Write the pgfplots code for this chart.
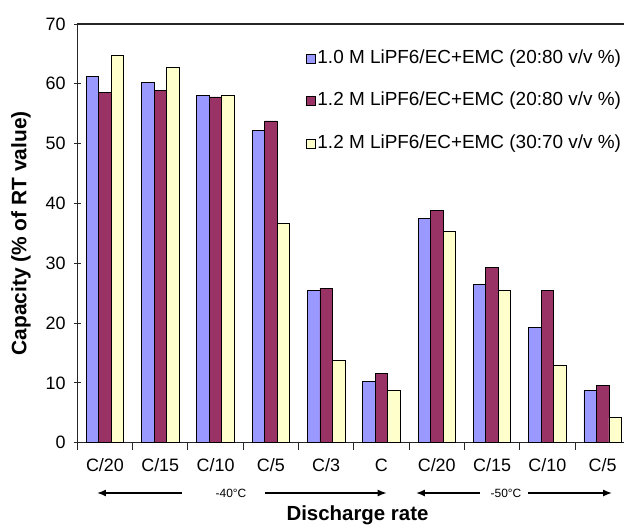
\documentclass[border=0pt]{standalone}
\usepackage{pgfplots}
\pgfplotsset{compat=1.18}
\usepackage{fontspec}
\setmainfont{Liberation Sans}
\usetikzlibrary{arrows.meta}
\definecolor{cA}{HTML}{9999FF}
\definecolor{cB}{HTML}{993366}
\definecolor{cC}{HTML}{FFFFCC}
\begin{document}
\begin{tikzpicture}
\begin{axis}[
  scale only axis, width=553bp, height=418.7bp,
  xmin=-0.5, xmax=9.5, ymin=0, ymax=70,
  clip=false,
  /pgf/number format/assume math mode=true,
  axis lines=left, axis line style={-, line width=1.1bp, black!85},
  ytick={0,10,...,70},
  tick align=center, major tick length=7bp,
  tick style={line width=1bp, black!85},
  xtick={-0.5,0.5,...,9.5}, xticklabels={,,,,,,,,,,,,},
  extra x ticks={0,1,2,3,4,5,6,7,8,9},
  extra x tick labels={C/20,C/15,C/10,C/5,C/3,C,C/20,C/15,C/10,C/5},
  extra x tick style={major tick length=0pt},
  xticklabel style={font=\fontsize{18}{20}\selectfont, anchor=base, yshift=-28.7bp},
  yticklabel style={font=\fontsize{18}{20}\selectfont, xshift=-4.6bp},
  ylabel={Capacity (\% of RT value)},
  ylabel style={font=\bfseries\fontsize{21}{24}\selectfont, at={(axis description cs:-0.102,0.5)}, anchor=center},
  xlabel={Discharge rate},
  xlabel style={font=\bfseries\fontsize{20.5}{23}\selectfont, at={(axis description cs:0.5,0)}, anchor=base, yshift=-77.3bp, xshift=3.7bp},
  ybar=0pt, bar width=12.5bp,
  sqlegend/.style={legend image code/.code={\draw[##1, draw=black, line width=0.8bp] (0bp,-4.5bp) rectangle (9bp,4.5bp);}},
  legend style={draw=none, fill=none, inner sep=0pt, at={(axis description cs:0.4135,0.942)}, anchor=north west,
    font=\fontsize{19}{22}\selectfont, row sep=22bp,
    nodes={inner sep=1.5bp, text height=13.5bp, text depth=4bp}},
  legend cell align=left,
]
\addplot[fill=cA, draw=black, line width=0.8bp, sqlegend] coordinates {
(0,61.3) (1,60.2) (2,58.0) (3,52.2) (4,25.4) (5,10.2) (6,37.5) (7,26.5) (8,19.2) (9,8.7)};
\addplot[fill=cB, draw=black, line width=0.8bp, sqlegend] coordinates {
(0,58.6) (1,58.9) (2,57.8) (3,53.8) (4,25.8) (5,11.6) (6,38.9) (7,29.3) (8,25.4) (9,9.5)};
\addplot[fill=cC, draw=black, line width=0.8bp, sqlegend] coordinates {
(0,64.7) (1,62.8) (2,58.1) (3,36.6) (4,13.7) (5,8.8) (6,35.3) (7,25.4) (8,13.0) (9,4.2)};
\legend{1.0 M LiPF6/EC+EMC (20:80 v/v \%),1.2 M LiPF6/EC+EMC (20:80 v/v \%),1.2 M LiPF6/EC+EMC (30:70 v/v \%)}
\draw[black!85, line width=1.1bp] (rel axis cs:0,1) -- (rel axis cs:1,1);
\draw[-{Latex[length=9bp,width=7bp]}, line width=1.5bp] (axis cs:1.393,-8.41) -- (axis cs:-0.144,-8.41);
\node[font=\fontsize{12}{14}\selectfont] at (axis cs:2.28,-8.41) {-40°C};
\draw[-{Latex[length=9bp,width=7bp]}, line width=1.5bp] (axis cs:2.894,-8.41) -- (axis cs:5.095,-8.41);
\draw[-{Latex[length=9bp,width=7bp]}, line width=1.5bp] (axis cs:6.781,-8.41) -- (axis cs:5.624,-8.41);
\node[font=\fontsize{12}{14}\selectfont] at (axis cs:7.252,-8.41) {-50°C};
\draw[-{Latex[length=9bp,width=7bp]}, line width=1.5bp] (axis cs:7.65,-8.41) -- (axis cs:9.17,-8.41);
\coordinate (O) at (rel axis cs:0,0);
\end{axis}
\pgfresetboundingbox
\path[use as bounding box] (O) ++(-77.3bp,-87.3bp) rectangle ++(624bp,530bp);
\end{tikzpicture}
\end{document}
